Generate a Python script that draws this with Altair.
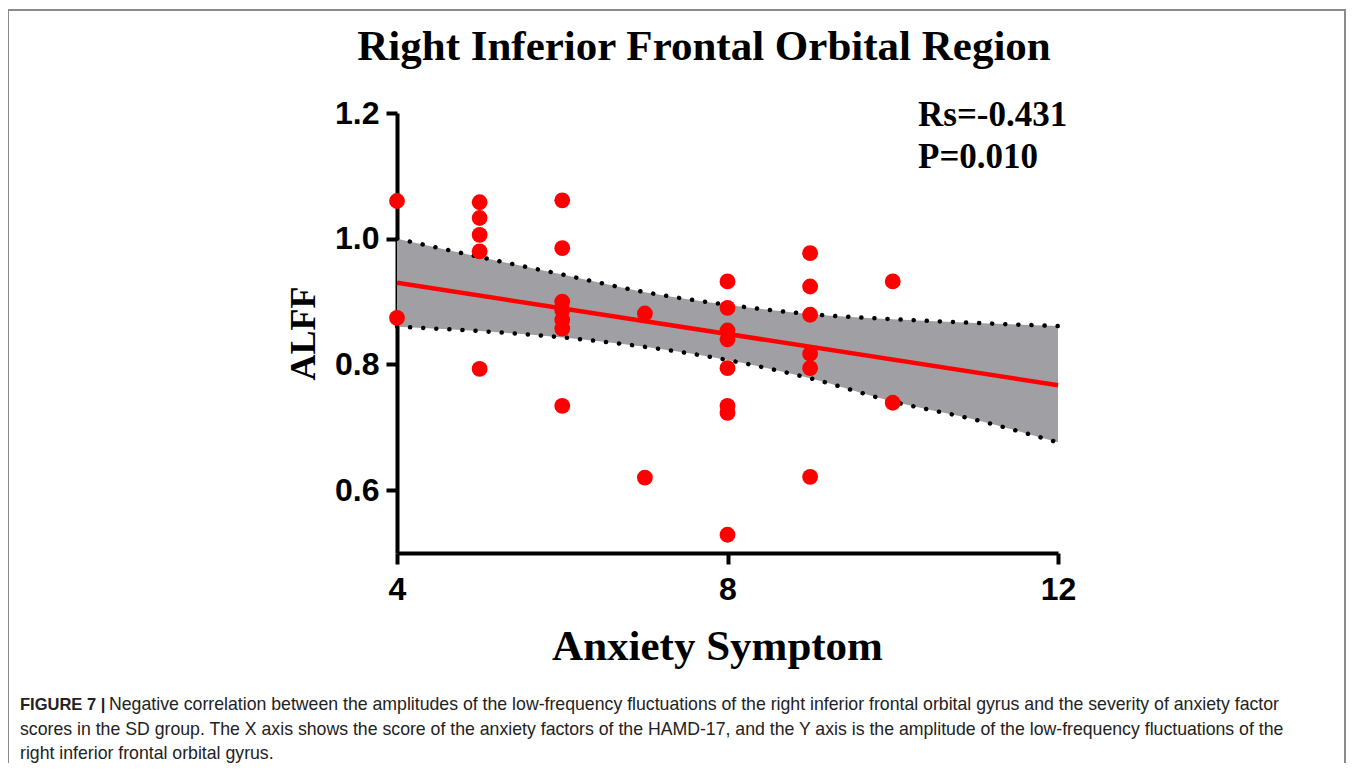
import altair as alt
import pandas as pd

# ---- data ----
anxiety = [4, 4,
           5, 5, 5, 5, 5,
           6, 6, 6, 6, 6, 6, 6,
           7, 7,
           8, 8, 8, 8, 8, 8, 8, 8,
           9, 9, 9, 9, 9, 9,
           10, 10]
alff = [1.060, 0.874,
        1.058, 1.033, 1.006, 0.980, 0.793,
        1.061, 0.985, 0.900, 0.886, 0.871, 0.857, 0.734,
        0.881, 0.620,
        0.932, 0.890, 0.854, 0.840, 0.794, 0.734, 0.723, 0.529,
        0.977, 0.924, 0.879, 0.817, 0.794, 0.621,
        0.932, 0.739]

fit_x = [4, 12]
fit_y = [0.930, 0.767]

band_x = [4, 5, 6, 7, 8, 9, 10, 11, 12]
band_upper = [1.000, 0.971, 0.943, 0.915, 0.895, 0.880, 0.872, 0.866, 0.861]
band_lower = [0.860, 0.853, 0.843, 0.828, 0.807, 0.778, 0.741, 0.712, 0.676]

x_ticks = [4, 8, 12]
y_ticks = [0.6, 0.8, 1.0, 1.2]

title_text = "Right Inferior Frontal Orbital Region"
stat_lines = ["Rs=-0.431", "P=0.010"]
caption_bold = "FIGURE 7 |"
caption_lines = [
    "Negative correlation between the amplitudes of the low-frequency fluctuations of the right inferior frontal orbital gyrus and the severity of anxiety factor",
    "scores in the SD group. The X axis shows the score of the anxiety factors of the HAMD-17, and the Y axis is the amplitude of the low-frequency fluctuations of the",
    "right inferior frontal orbital gyrus.",
]

# ---- tables ----
pts = pd.DataFrame({"x": anxiety, "y": alff})
fit = pd.DataFrame({"x": fit_x, "y": fit_y})
band = pd.DataFrame({"x": band_x, "upper": band_upper, "lower": band_lower})

x_scale = alt.Scale(domain=[4, 12], nice=False, zero=False)
y_scale = alt.Scale(domain=[0.5, 1.2], nice=False, zero=False)

x_axis = alt.Axis(values=x_ticks, format="d", grid=False, labelFlush=False,
                  labelFont="Liberation Sans", labelFontWeight="bold", labelFontSize=32,
                  labelColor="black", labelPadding=10,
                  tickSize=11, tickWidth=4, tickColor="black",
                  domainWidth=4, domainColor="black",
                  titleFont="Liberation Serif", titleFontWeight="bold", titleFontSize=43,
                  titleColor="black", titlePadding=20, titleX=320)
y_axis = alt.Axis(values=y_ticks, format=".1f", grid=False, labelFlush=False,
                  labelFont="Liberation Sans", labelFontWeight="bold", labelFontSize=32,
                  labelColor="black", labelPadding=7,
                  tickSize=11, tickWidth=4, tickColor="black",
                  domainWidth=4, domainColor="black",
                  titleFont="Liberation Serif", titleFontWeight="bold", titleFontSize=36,
                  titleColor="black", titlePadding=12)

def X(field):
    return alt.X(field, type="quantitative", scale=x_scale, axis=x_axis, title="Anxiety Symptom")

def Y(field):
    return alt.Y(field, type="quantitative", scale=y_scale, axis=y_axis, title="ALFF")

area = alt.Chart(band).mark_area(color="#a0a0a4", opacity=1, interpolate="monotone").encode(
    x=X("x"), y=Y("lower"), y2="upper:Q")

upper_line = alt.Chart(band).mark_line(color="black", strokeWidth=4.5, strokeDash=[0.1, 13],
                                       strokeCap="round", interpolate="monotone").encode(
    x=X("x"), y=Y("upper"))
lower_line = alt.Chart(band).mark_line(color="black", strokeWidth=4.5, strokeDash=[0.1, 13],
                                       strokeCap="round", interpolate="monotone").encode(
    x=X("x"), y=Y("lower"))

fit_line = alt.Chart(fit).mark_line(color="#ff0000", strokeWidth=4.5).encode(x=X("x"), y=Y("y"))

points = alt.Chart(pts).mark_circle(color="#ff0000", size=250, opacity=1).encode(x=X("x"), y=Y("y"))

one = pd.DataFrame({"t": [title_text]})
frame = alt.Chart(one).mark_rect(fillOpacity=0, stroke="#8a8a8a", strokeWidth=2).encode(
    x=alt.value(-389), x2=alt.value(948), y=alt.value(-103), y2=alt.value(700))

title = alt.Chart(one).mark_text(font="Liberation Serif", fontWeight="bold", fontSize=43,
                                 color="black", align="center", baseline="alphabetic").encode(
    x=alt.value(307), y=alt.value(-53), text="t:N")

stat1 = alt.Chart(pd.DataFrame({"t": [stat_lines[0]]})).mark_text(
    font="Liberation Serif", fontWeight="bold", fontSize=35, color="black",
    align="left", baseline="alphabetic").encode(x=alt.value(521), y=alt.value(13), text="t:N")
stat2 = alt.Chart(pd.DataFrame({"t": [stat_lines[1]]})).mark_text(
    font="Liberation Serif", fontWeight="bold", fontSize=35, color="black",
    align="left", baseline="alphabetic").encode(x=alt.value(521), y=alt.value(55), text="t:N")

cap_style = dict(font="Liberation Sans", color="#222222", align="left", baseline="alphabetic")
cap_b = alt.Chart(pd.DataFrame({"t": [caption_bold]})).mark_text(
    fontWeight="bold", fontSize=16.5, **cap_style).encode(
    x=alt.value(-377), y=alt.value(597), text="t:N")
cap1 = alt.Chart(pd.DataFrame({"t": [caption_lines[0]]})).mark_text(fontSize=17.7, **cap_style).encode(
    x=alt.value(-288), y=alt.value(597), text="t:N")
cap2 = alt.Chart(pd.DataFrame({"t": [caption_lines[1]]})).mark_text(fontSize=17.7, **cap_style).encode(
    x=alt.value(-377), y=alt.value(622), text="t:N")
cap3 = alt.Chart(pd.DataFrame({"t": [caption_lines[2]]})).mark_text(fontSize=17.7, **cap_style).encode(
    x=alt.value(-377), y=alt.value(646), text="t:N")

chart = alt.layer(area, upper_line, lower_line, fit_line, points, frame, title,
                  stat1, stat2, cap_b, cap1, cap2, cap3).properties(
    width=661, height=440,
    padding={"left": 389, "top": 105, "right": 289, "bottom": 210},
    autosize=alt.AutoSizeParams(type="none"),
    background="white",
).configure_view(strokeWidth=0)

chart.save("out.html", embed_options={"renderer": "svg", "actions": False})
